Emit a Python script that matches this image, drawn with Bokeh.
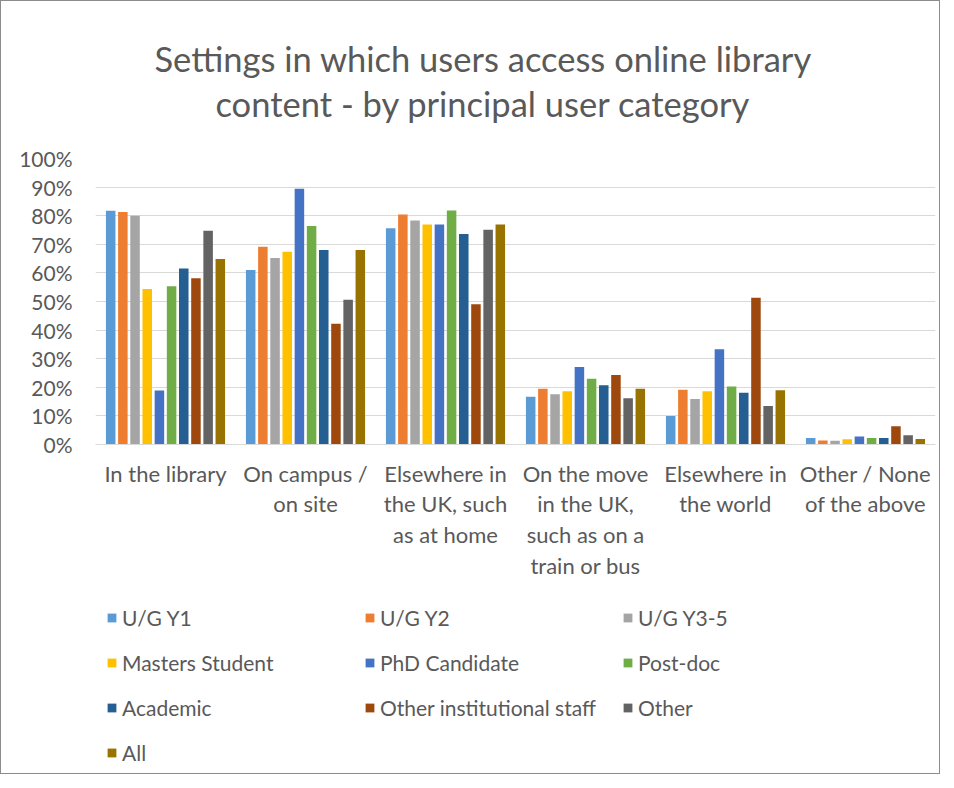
from bokeh.plotting import figure
from bokeh.layouts import column
from bokeh.models import (FactorRange, ColumnDataSource, Legend, LegendItem, Title,
                          PrintfTickFormatter, FixedTicker)
from bokeh.transform import dodge
from bokeh.embed import file_html
from bokeh.resources import INLINE

categories = ["In the library", "On campus /\non site", "Elsewhere in\nthe UK, such\nas at home",
              "On the move\nin the UK,\nsuch as on a\ntrain or bus", "Elsewhere in\nthe world",
              "Other / None\nof the above"]

series_names = ["U/G Y1", "U/G Y2", "U/G Y3-5", "Masters Student", "PhD Candidate",
                "Post-doc", "Academic", "Other institutional staff", "Other", "All"]

ug_y1 = [81.7, 61.0, 75.6, 16.7, 10.0, 2.3]
ug_y2 = [81.3, 69.1, 80.4, 19.5, 19.1, 1.4]
ug_y3_5 = [80.0, 65.2, 78.3, 17.6, 15.9, 1.3]
masters = [54.4, 67.4, 76.9, 18.6, 18.6, 1.8]
phd = [18.9, 89.4, 76.9, 27.1, 33.3, 2.8]
postdoc = [55.3, 76.4, 81.8, 23.0, 20.3, 2.3]
academic = [61.5, 68.0, 73.6, 20.7, 18.1, 2.3]
other_staff = [58.1, 42.2, 49.0, 24.3, 51.3, 6.4]
other = [74.7, 50.6, 75.1, 16.2, 13.5, 3.2]
all_users = [64.9, 68.0, 76.9, 19.5, 19.0, 1.9]

y_ticks = [0, 10, 20, 30, 40, 50, 60, 70, 80, 90, 100]

colors = ["#5B9BD5", "#ED7D31", "#A5A5A5", "#FFC000", "#4472C4",
          "#70AD47", "#255E91", "#9E480E", "#636363", "#997300"]

series_values = [ug_y1, ug_y2, ug_y3_5, masters, phd, postdoc, academic, other_staff, other, all_users]

data = {"cat": categories}
keys = []
for i, vals in enumerate(series_values):
    k = "s%d" % i
    keys.append(k)
    data[k] = vals
source = ColumnDataSource(data)

FONT = "Lato"
TXT = "#595959"

p = figure(width=938, height=593, x_range=FactorRange(*categories, range_padding=0, factor_padding=0),
           y_range=(0, 100), output_backend="svg", toolbar_location=None,
           min_border_left=94, min_border_right=4, min_border_top=157, min_border_bottom=150)

for i, k in enumerate(keys):
    p.vbar(x=dodge("cat", (i - 4.5) * 0.087, range=p.x_range), top=k, width=0.068,
           source=source, color=colors[i], line_color=None)

p.title.visible = False
title = Title(text="Settings in which users access online library\ncontent - by principal user category",
              align="left", offset=59, text_font=FONT, text_font_size="34.5px", text_font_style="normal",
              text_color=TXT, text_line_height=1.10, standoff=69)
if "text_align" in Title.properties():
    title.text_align = "center"
p.add_layout(title, "above")

p.outline_line_color = None
p.xgrid.grid_line_color = None
p.ygrid.grid_line_color = "#D9D9D9"
p.ygrid.grid_line_width = 1

p.yaxis.ticker = FixedTicker(ticks=y_ticks)
p.yaxis.formatter = PrintfTickFormatter(format="%d%%")
p.yaxis.axis_line_color = None
p.yaxis.major_tick_line_color = None
p.yaxis.minor_tick_line_color = None
p.yaxis.major_label_text_font = FONT
p.yaxis.major_label_text_font_size = "21px"
p.yaxis.major_label_text_color = TXT
p.yaxis.major_label_standoff = 17

p.xaxis.axis_line_color = "#D9D9D9"
p.xaxis.major_tick_line_color = None
p.xaxis.minor_tick_line_color = None
p.xaxis.major_label_text_font = FONT
p.xaxis.major_label_text_font_size = "22px"
p.xaxis.major_label_text_color = TXT
p.xaxis.major_label_text_line_height = 1.14
p.xaxis.major_label_standoff = 9

# legend panel as a separate figure; its swatch renderers sit outside the visible range
lf = figure(width=938, height=179, x_range=(0, 1), y_range=(0, 1), output_backend="svg",
            toolbar_location=None, x_axis_location=None, y_axis_location=None,
            min_border_left=94, min_border_right=4, min_border_top=0, min_border_bottom=0)
lf.title.visible = False
lf.outline_line_color = None
lf.xgrid.grid_line_color = None
lf.ygrid.grid_line_color = None
swatches = []
for i in range(len(keys)):
    r = lf.vbar(x=[-5], top=[-5], bottom=[-6], width=0.1, color=colors[i], line_color=None)
    swatches.append(r)
items = [LegendItem(label=series_names[i], renderers=[swatches[i]]) for i in range(len(keys))]
legend = Legend(items=items, orientation="horizontal", ncols=3, location="top_left",
                margin=11, padding=0, spacing=20, glyph_width=11, glyph_height=11,
                label_height=22, label_width=222, label_standoff=5,
                label_text_font=FONT, label_text_font_size="21px", label_text_color=TXT,
                border_line_color=None, background_fill_alpha=0)
lf.add_layout(legend, "center")

layout = column(p, lf, spacing=0)
layout.styles = {"border": "1px solid #8c8c8c"}

open("out.html", "w").write(file_html(layout, INLINE))
